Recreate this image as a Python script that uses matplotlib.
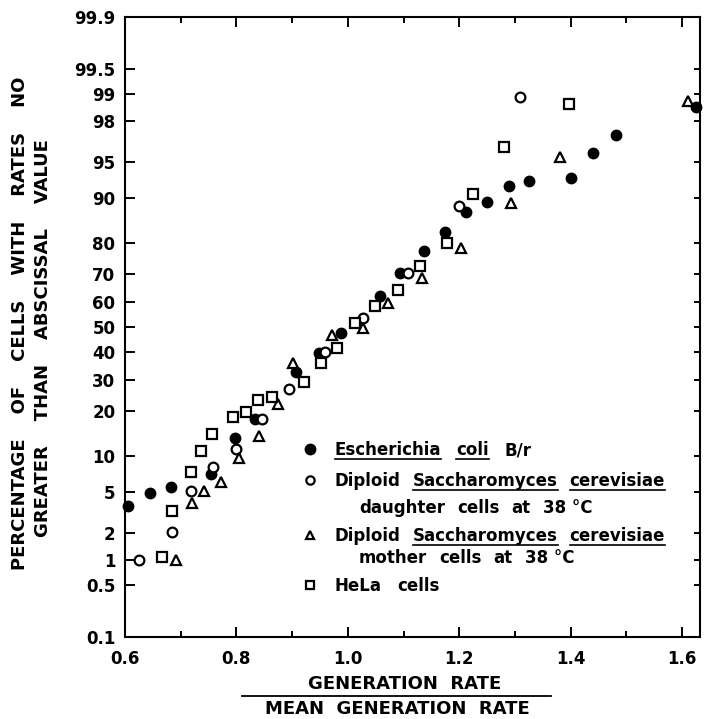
import numpy as np
import matplotlib
matplotlib.use("Agg")
import matplotlib.pyplot as plt
from matplotlib.lines import Line2D
from matplotlib.ticker import FixedLocator, NullLocator
from statistics import NormalDist

# Valores (x = tasa relativa, y = porcentaje acumulado)
ecoli_x = [0.605, 0.645, 0.683, 0.754, 0.797, 0.833, 0.907, 0.948, 0.988, 1.058, 1.094,
           1.137, 1.175, 1.212, 1.250, 1.289, 1.325, 1.401, 1.440, 1.481, 1.625]
ecoli_y = [3.7, 4.9, 5.5, 7.1, 13.4, 18.0, 32.7, 39.8, 47.6, 62.0, 70.5,
           77.6, 82.8, 87.4, 89.4, 92.0, 92.7, 93.1, 95.9, 97.2, 98.6]

daughter_x = [0.625, 0.684, 0.718, 0.758, 0.799, 0.846, 0.894, 0.959, 1.027, 1.108, 1.200, 1.309]
daughter_y = [1.0, 2.05, 5.1, 8.1, 11.2, 18.0, 26.8, 40.2, 53.6, 70.5, 88.6, 98.9]

mother_x = [0.692, 0.720, 0.742, 0.772, 0.805, 0.841, 0.875, 0.902, 0.972, 1.027, 1.072,
            1.133, 1.203, 1.293, 1.381, 1.611]
mother_y = [1.0, 4.0, 5.1, 6.1, 9.6, 13.9, 22.1, 36.0, 47.0, 49.6, 59.5,
            68.7, 78.5, 89.2, 95.5, 98.8]

hela_x = [0.666, 0.684, 0.718, 0.736, 0.756, 0.794, 0.817, 0.839, 0.864, 0.921, 0.952,
          0.981, 1.013, 1.049, 1.090, 1.130, 1.178, 1.225, 1.280, 1.397]
hela_y = [1.1, 3.3, 7.4, 10.8, 14.3, 18.5, 19.9, 23.3, 24.3, 29.2, 36.0,
          41.7, 51.6, 58.3, 64.4, 72.8, 79.9, 90.8, 96.4, 98.7]

y_ticks = [0.1, 0.5, 1, 2, 5, 10, 20, 30, 40, 50, 60, 70, 80, 90, 95, 98, 99, 99.5, 99.9]
y_labels = ['0.1', '0.5', '1', '2', '5', '10', '20', '30', '40', '50', '60', '70',
            '80', '90', '95', '98', '99', '99.5', '99.9']
x_ticks = [0.6, 0.8, 1.0, 1.2, 1.4, 1.6]
x_labels = ['0.6', '0.8', '1.0', '1.2', '1.4', '1.6']

# Escala de probabilidad normal
nd = NormalDist()


def prob_fwd(p):
    p = np.asarray(p, dtype=float)
    q = np.clip(p, 1e-7, 100 - 1e-7) / 100.0
    out = np.array([nd.inv_cdf(v) if np.isfinite(v) else np.nan for v in q.ravel()])
    return out.reshape(p.shape)


def prob_inv(z):
    z = np.asarray(z, dtype=float)
    out = np.array([100 * nd.cdf(v) if np.isfinite(v) else np.nan for v in z.ravel()])
    return out.reshape(z.shape)


plt.rcParams['font.family'] = ['DejaVu Sans']

fig = plt.figure(figsize=(7.04, 7.19), dpi=100)
ax = fig.add_axes([125 / 704, 82 / 719, 575 / 704, 620 / 719])
ax.set_yscale('function', functions=(prob_fwd, prob_inv))

ms = dict(linestyle='none', color='black', clip_on=False)
ax.plot(ecoli_x, ecoli_y, marker='o', markersize=7.5, **ms)
ax.plot(daughter_x, daughter_y, marker='o', markersize=7, markerfacecolor='white', markeredgewidth=1.6, **ms)
ax.plot(mother_x, mother_y, marker='^', markersize=6.5, markerfacecolor='white', markeredgewidth=1.6, **ms)
ax.plot(hela_x, hela_y, marker='s', markersize=7, markerfacecolor='white', markeredgewidth=1.6, **ms)

ax.set_xlim(0.6, 1.632)
ax.set_ylim(0.1, 99.9)

ax.yaxis.set_major_locator(FixedLocator(y_ticks))
ax.yaxis.set_minor_locator(NullLocator())
ax.set_yticklabels(y_labels)
ax.xaxis.set_major_locator(FixedLocator(x_ticks))
ax.xaxis.set_minor_locator(FixedLocator([0.7, 0.9, 1.1, 1.3, 1.5]))
ax.set_xticklabels(x_labels)

ax.tick_params(which='both', direction='in', top=True, right=True, width=1.4)
ax.tick_params(which='major', length=7)
ax.tick_params(which='minor', length=4)
ax.tick_params(axis='y', pad=7)
ax.tick_params(axis='x', pad=9)
for lab in ax.get_xticklabels() + ax.get_yticklabels():
    lab.set_fontsize(12)
    lab.set_fontweight('bold')
for t in ax.yaxis.get_major_ticks():
    t.tick2line.set_markersize(4)
for sp in ax.spines.values():
    sp.set_linewidth(1.5)

# Etiquetas de los ejes
lab_font = dict(fontsize=13, fontweight='bold', ha='center', va='center')
fig.text(20 / 704, (719 - 323) / 719, 'PERCENTAGE    OF    CELLS    WITH    RATES    NO',
         rotation=90, **lab_font)
fig.text(43 / 704, (719 - 338) / 719, 'GREATER    THAN    ABSCISSAL    VALUE',
         rotation=90, **lab_font)
fig.text(405 / 704, (719 - 684) / 719, 'GENERATION  RATE', **lab_font)
fig.text(397 / 704, (719 - 709) / 719, 'MEAN  GENERATION  RATE', **lab_font)
fig.add_artist(Line2D([242 / 704, 551 / 704], [(719 - 696) / 719] * 2,
                      transform=fig.transFigure, color='black', lw=1.3))

# Leyenda hecha a mano (con subrayados)
fig.canvas.draw()
renderer = fig.canvas.get_renderer()
W, H = fig.bbox.width, fig.bbox.height
leg_font = dict(fontsize=12, fontweight='bold', ha='left', va='baseline')


def legend_row(x, y, parts, gap=12):
    x0, y0 = ax.transAxes.transform((x, y))
    cur = x0
    for word, under in parts:
        t = fig.text(cur / W, y0 / H, word, **leg_font)
        w = t.get_window_extent(renderer).width
        if under:
            fig.add_artist(Line2D([cur / W, (cur + w) / W], [(y0 - 4) / H] * 2,
                                  transform=fig.transFigure, color='black', lw=1.2))
        cur += w + gap


mx = 0.322
ax.plot(mx, 0.303, marker='o', markersize=7.5, transform=ax.transAxes, **ms)
ax.plot(mx, 0.253, marker='o', markersize=6, markerfacecolor='white', markeredgewidth=1.6,
        transform=ax.transAxes, **ms)
ax.plot(mx, 0.165, marker='^', markersize=5.5, markerfacecolor='white', markeredgewidth=1.6,
        transform=ax.transAxes, **ms)
ax.plot(mx, 0.084, marker='s', markersize=6, markerfacecolor='white', markeredgewidth=1.6,
        transform=ax.transAxes, **ms)

tx, ix = 0.365, 0.407
legend_row(tx, 0.2935, [('Escherichia', True), ('coli', True), ('B/r', False)], gap=15)
legend_row(tx, 0.2435, [('Diploid', False), ('Saccharomyces', True), ('cerevisiae', True)])
legend_row(ix, 0.200, [('daughter', False), ('cells', False), ('at', False), ('38 °C', False)])
legend_row(tx, 0.155, [('Diploid', False), ('Saccharomyces', True), ('cerevisiae', True)])
legend_row(ix, 0.119, [('mother', False), ('cells', False), ('at', False), ('38 °C', False)])
legend_row(tx, 0.074, [('HeLa', False), ('cells', False)], gap=15)

fig.savefig('out.png', dpi=100)
